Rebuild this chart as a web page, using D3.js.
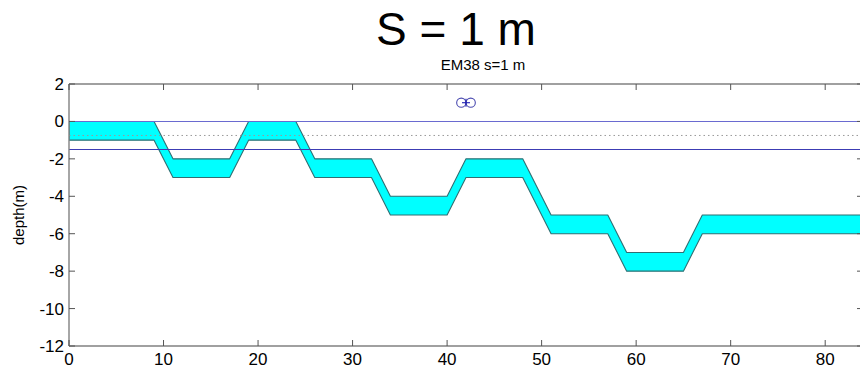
<!DOCTYPE html>
<html>
<head>
<meta charset="utf-8">
<script src="https://cdn.jsdelivr.net/npm/d3@7"></script>
<style>
  html, body { margin: 0; padding: 0; background: #fff; }
  svg { display: block; font-family: "Liberation Sans", Arial, sans-serif; }
</style>
</head>
<body>
<svg id="chart" width="860" height="374"></svg>
<script>
// ---- data ----
const layerTopX = [0, 9, 11, 17, 19, 24, 26, 32, 34, 40, 42, 48, 51, 57, 59, 65, 67, 84];
const layerTopY = [0, 0, -2, -2, 0, 0, -2, -2, -4, -4, -2, -2, -5, -5, -7, -7, -5, -5];
const layerThickness = 1;
const refLineDepths = [0, -1.5];
const dottedDepth = -0.75;
const coilX = [41.5, 42.5];
const coilY = [1, 1];
const centerX = [42];
const centerY = [1];
const xTicks = [0, 10, 20, 30, 40, 50, 60, 70, 80];
const yTicks = [2, 0, -2, -4, -6, -8, -10, -12];
const xDomain = [0, 84];
const yDomain = [-12, 2];
const titleText = "S = 1 m";
const subtitleText = "EM38 s=1 m";
const yLabel = "depth(m)";

(function () {
const svg = d3.select("#chart");
const pL = 69, pR = 863, pT = 84, pB = 346;
const x = d3.scaleLinear().domain(xDomain).range([pL, pR]);
const y = d3.scaleLinear().domain(yDomain).range([pB, pT]);

svg.append("defs").append("clipPath").attr("id", "clip")
  .append("rect").attr("x", pL).attr("y", pT).attr("width", pR - pL).attr("height", pB - pT);

const plot = svg.append("g").attr("clip-path", "url(#clip)");

// layer polygon
const topPts = layerTopX.map((d, i) => [d, layerTopY[i]]);
const botPts = layerTopX.map((d, i) => [d, layerTopY[i] - layerThickness]).reverse();
const poly = topPts.concat(botPts);
plot.append("path")
  .attr("d", d3.line().x(d => x(d[0])).y(d => y(d[1]))(poly) + "Z")
  .attr("fill", "#00ffff")
  .attr("stroke", "#2f6f73")
  .attr("stroke-width", 1.1)
  .attr("stroke-linejoin", "round");

// reference lines
plot.append("line")
  .attr("x1", x(xDomain[0])).attr("x2", x(xDomain[1]))
  .attr("y1", y(refLineDepths[0])).attr("y2", y(refLineDepths[0]))
  .attr("stroke", "#6a6ad0").attr("stroke-width", 1.1);
plot.append("line")
  .attr("x1", x(xDomain[0])).attr("x2", x(xDomain[1]))
  .attr("y1", y(refLineDepths[1])).attr("y2", y(refLineDepths[1]))
  .attr("stroke", "#3c3cb4").attr("stroke-width", 1.1);
plot.append("line")
  .attr("x1", x(xDomain[0])).attr("x2", x(xDomain[1]))
  .attr("y1", y(dottedDepth)).attr("y2", y(dottedDepth))
  .attr("stroke", "#999").attr("stroke-width", 1)
  .attr("stroke-dasharray", "1.5,3");

// coil markers
plot.selectAll("circle.coil").data(coilX).enter().append("circle")
  .attr("class", "coil")
  .attr("cx", d => x(d)).attr("cy", (d, i) => y(coilY[i]))
  .attr("r", 4.6)
  .attr("fill", "none").attr("stroke", "#4a4ab0").attr("stroke-width", 1.1);
centerX.forEach((cx, i) => {
  const px = x(cx), py = y(centerY[i]);
  plot.append("line").attr("x1", px - 4).attr("x2", px + 4).attr("y1", py).attr("y2", py)
    .attr("stroke", "#2020b0").attr("stroke-width", 1.1);
  plot.append("line").attr("x1", px).attr("x2", px).attr("y1", py - 4).attr("y2", py + 4)
    .attr("stroke", "#2020b0").attr("stroke-width", 1.1);
});

// axes
const axisColor = "#808080";
const tickLen = 6;
const ax = svg.append("g");
ax.append("line").attr("x1", pL).attr("x2", pL).attr("y1", pT).attr("y2", pB)
  .attr("stroke", axisColor).attr("stroke-width", 1.4);
ax.append("line").attr("x1", pL).attr("x2", pR).attr("y1", pB).attr("y2", pB)
  .attr("stroke", axisColor).attr("stroke-width", 1.4);
ax.append("line").attr("x1", pL).attr("x2", pR).attr("y1", pT).attr("y2", pT)
  .attr("stroke", axisColor).attr("stroke-width", 1.4);
ax.append("line").attr("x1", pR).attr("x2", pR).attr("y1", pT).attr("y2", pB)
  .attr("stroke", axisColor).attr("stroke-width", 1.4);

xTicks.forEach(t => {
  const px = x(t);
  ax.append("line").attr("x1", px).attr("x2", px).attr("y1", pB).attr("y2", pB - tickLen)
    .attr("stroke", "#555").attr("stroke-width", 1);
  ax.append("line").attr("x1", px).attr("x2", px).attr("y1", pT).attr("y2", pT + tickLen)
    .attr("stroke", "#555").attr("stroke-width", 1);
  ax.append("text").attr("x", px).attr("y", pB + 19)
    .attr("text-anchor", "middle").attr("font-size", 17).attr("fill", "#000")
    .text(t);
});
yTicks.forEach(t => {
  const py = y(t);
  ax.append("line").attr("x1", pL).attr("x2", pL + tickLen).attr("y1", py).attr("y2", py)
    .attr("stroke", "#555").attr("stroke-width", 1);
  ax.append("line").attr("x1", pR).attr("x2", pR - tickLen).attr("y1", py).attr("y2", py)
    .attr("stroke", "#555").attr("stroke-width", 1);
  ax.append("text").attr("x", pL - 5).attr("y", py + 6)
    .attr("text-anchor", "end").attr("font-size", 17).attr("fill", "#000")
    .text(t);
});

svg.append("text")
  .attr("transform", `translate(24,${(pT + pB) / 2}) rotate(-90)`)
  .attr("text-anchor", "middle").attr("font-size", 15).attr("fill", "#000")
  .text(yLabel);

svg.append("text").attr("x", 456).attr("y", 45)
  .attr("text-anchor", "middle").attr("font-size", 46).attr("fill", "#000")
  .text(titleText);
svg.append("text").attr("x", 483).attr("y", 70)
  .attr("text-anchor", "middle").attr("font-size", 15).attr("fill", "#000")
  .text(subtitleText);
})();
</script>
</body>
</html>
